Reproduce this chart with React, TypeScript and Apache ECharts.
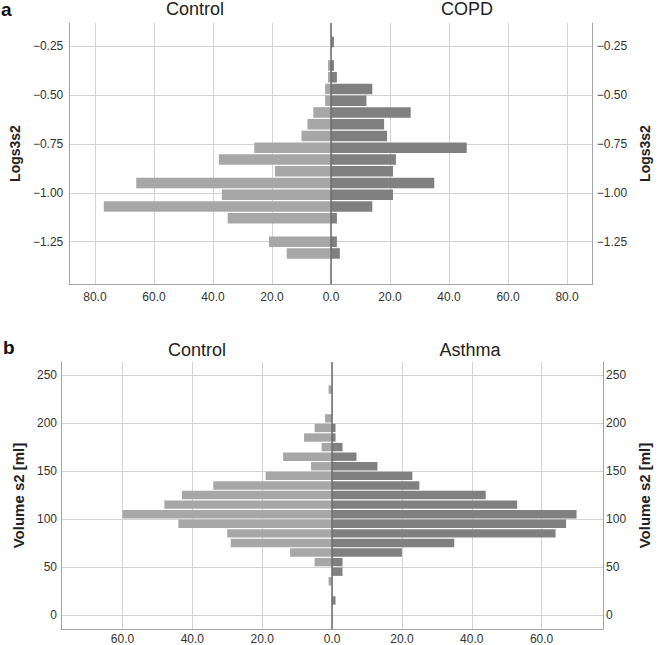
import React, { useEffect, useRef } from 'react';
import * as echarts from 'echarts';

// panel a: Logs3s2 histogram, bin centres (bin width 0.06)
const binsA = [-1.31, -1.25, -1.19, -1.13, -1.07, -1.01, -0.95, -0.89, -0.83, -0.77, -0.71, -0.65, -0.59, -0.53, -0.47, -0.41, -0.35, -0.29, -0.23];
const controlA = [15, 21, 0, 35, 77, 37, 66, 19, 38, 26, 10, 8, 6, 2, 2, 1, 1, 0, 0];
const copdA = [3, 2, 0, 2, 14, 21, 35, 21, 22, 46, 19, 18, 27, 12, 14, 2, 1, 0, 1];
const valueTicksA = [-1.25, -1.0, -0.75, -0.5, -0.25];
const countTicksA = [-80, -60, -40, -20, 0, 20, 40, 60, 80];

// panel b: Volume s2 [ml] histogram, bin centres (bin width 10)
const binsB = [15, 25, 35, 45, 55, 65, 75, 85, 95, 105, 115, 125, 135, 145, 155, 165, 175, 185, 195, 205, 215, 225, 235];
const controlB = [0, 0, 1, 0, 5, 12, 29, 30, 44, 60, 48, 43, 34, 19, 6, 14, 3, 8, 5, 2, 0, 0, 1];
const asthmaB = [1, 0, 0, 3, 3, 20, 35, 64, 67, 70, 53, 44, 25, 23, 13, 7, 3, 1, 1, 0, 0, 0, 0];
const valueTicksB = [0, 50, 100, 150, 200, 250];
const countTicksB = [-60, -40, -20, 0, 20, 40, 60];

const FONT = '"Liberation Sans", Arial, Helvetica, sans-serif';
const LIGHT = '#a7a7a7';
const DARK = '#808080';
const GRID = '#d3d3d3';
const FRAME = '#a3a3a3';
const TEXT = '#333';

const minus = (s: string) => s.replace('-', '\u2212');

// one histogram bar per bin, going left (side -1) or right (side 1) from 0
const barRenderer = (binWidth: number, side: number, color: string) => (params: any, api: any) => {
  const centre = api.value(0);
  const count = api.value(1);
  const p0 = api.coord([0, centre + binWidth / 2]);
  const p1 = api.coord([side * count, centre - binWidth / 2]);
  return {
    type: 'rect',
    shape: {
      x: Math.min(p0[0], p1[0]),
      y: Math.min(p0[1], p1[1]) + 0.6,
      width: Math.abs(p1[0] - p0[0]),
      height: Math.abs(p1[1] - p0[1]) - 1.2,
    },
    style: { fill: color },
  };
};

const countAxis = (grid: number, range: number, ticks: number[], margin: number) => ({
  type: 'value',
  gridIndex: grid,
  min: -range,
  max: range,
  axisLine: { show: true, onZero: false, lineStyle: { color: FRAME, width: 1 } },
  axisTick: { show: false, customValues: ticks },
  axisLabel: {
    customValues: ticks,
    formatter: (v: number) => Math.abs(v).toFixed(1),
    color: TEXT,
    fontSize: 12,
    fontFamily: FONT,
    margin,
  },
  splitLine: { show: true, lineStyle: { color: GRID, width: 1 } },
});

const valueAxis = (
  grid: number,
  min: number,
  max: number,
  ticks: number[],
  name: string,
  nameSize: number,
  nameGap: number,
  position: string,
  margin: number,
  fmt: (v: number) => string,
) => ({
  type: 'value',
  gridIndex: grid,
  position,
  min,
  max,
  name,
  nameLocation: 'middle',
  nameRotate: 90,
  nameGap,
  nameTextStyle: { fontSize: nameSize, fontWeight: 'bold', color: '#222', fontFamily: FONT },
  axisLine: { show: true, onZero: false, lineStyle: { color: FRAME, width: 1 } },
  axisTick: { show: false, customValues: ticks },
  axisLabel: { customValues: ticks, formatter: fmt, color: TEXT, fontSize: 12, fontFamily: FONT, margin },
  splitLine: { show: position === 'left', lineStyle: { color: GRID, width: 1 } },
});

const histSeries = (
  axisIdx: number,
  bins: number[],
  counts: number[],
  binWidth: number,
  side: number,
  color: string,
  withCentreLine: boolean,
) => ({
  type: 'custom',
  xAxisIndex: axisIdx,
  yAxisIndex: axisIdx * 2,
  encode: { x: 1, y: 0 },
  clip: true,
  z: 2,
  renderItem: barRenderer(binWidth, side, color),
  data: bins.map((b, i) => [b, counts[i]]).filter((d) => d[1] > 0),
  markLine: withCentreLine
    ? {
        silent: true,
        symbol: ['none', 'none'],
        label: { show: false },
        lineStyle: { color: '#6c6c6c', width: 1.5, type: 'solid' },
        z: 5,
        data: [{ xAxis: 0 }],
      }
    : undefined,
});

const fmtA = (v: number) => minus(v.toFixed(2));
const fmtB = (v: number) => String(v);

const title = (text: string, x: number, y: number) => ({
  type: 'text',
  x,
  y,
  style: { text, align: 'center', verticalAlign: 'middle', fontSize: 18, fontFamily: FONT, fill: '#222' },
});

const panelLetter = (text: string, x: number, y: number) => ({
  type: 'text',
  x,
  y,
  style: { text, verticalAlign: 'middle', fontSize: 19, fontWeight: 'bold', fontFamily: FONT, fill: '#111' },
});

const App: React.FC = () => {
  const chartRef = useRef<HTMLDivElement>(null);

  useEffect(() => {
    const chart = echarts.init(chartRef.current!, null, { renderer: 'svg' });

    const options = {
      animation: false,
      grid: [
        { left: 59, right: 57, top: 23, height: 261 },
        { left: 61, right: 53, top: 362, height: 269 },
      ],
      xAxis: [countAxis(0, 88.7, countTicksA, 7), countAxis(1, 77.6, countTicksB, 4)],
      yAxis: [
        valueAxis(0, -1.466, -0.133, valueTicksA, 'Logs3s2', 14, 40, 'left', 6, fmtA),
        valueAxis(0, -1.466, -0.133, valueTicksA, 'Logs3s2', 14, 40, 'right', 4, fmtA),
        valueAxis(1, -14.8, 263.8, valueTicksB, 'Volume s2 [ml]', 15, 27, 'left', 4, fmtB),
        valueAxis(1, -14.8, 263.8, valueTicksB, 'Volume s2 [ml]', 15, 29, 'right', 3, fmtB),
      ],
      graphic: [
        title('Control', 195, 9),
        title('COPD', 467, 9),
        title('Control', 197, 350),
        title('Asthma', 470, 350),
        panelLetter('a', 1, 9),
        panelLetter('b', 3, 347),
      ],
      series: [
        histSeries(0, binsA, controlA, 0.06, -1, LIGHT, false),
        histSeries(0, binsA, copdA, 0.06, 1, DARK, true),
        histSeries(1, binsB, controlB, 10, -1, LIGHT, false),
        histSeries(1, binsB, asthmaB, 10, 1, DARK, true),
      ],
    };

    chart.setOption(options as any);

    return () => {
      chart.dispose();
    };
  }, []);

  return (
    <div
      ref={chartRef}
      style={{ position: 'absolute', left: 0, top: 0, width: '660px', height: '645px' }}
    />
  );
};

export default App;
